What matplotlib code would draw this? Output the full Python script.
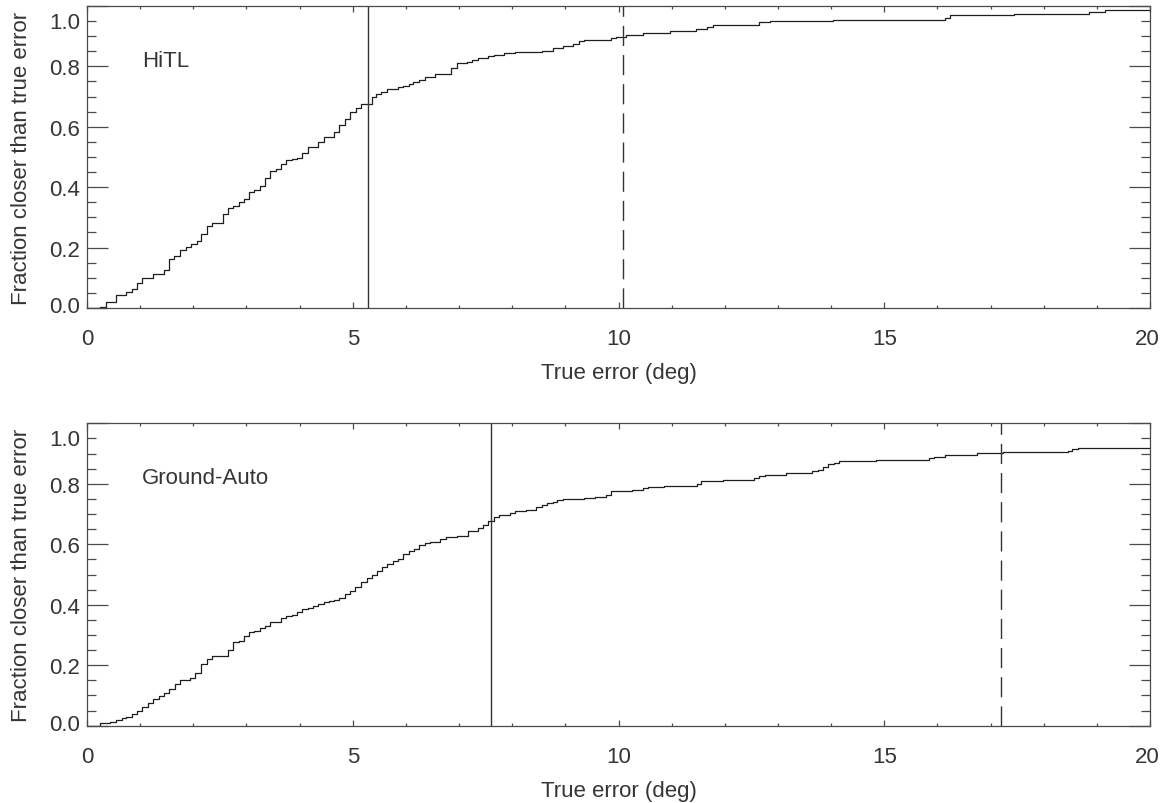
import matplotlib
matplotlib.use("Agg")
import matplotlib.pyplot as plt
from matplotlib.ticker import FixedLocator, MultipleLocator
from matplotlib.transforms import ScaledTranslation

plt.rcParams['font.family'] = ['Liberation Sans', 'DejaVu Sans']

# Cumulative fraction of cases closer than a given true error (deg)
hitl_err = [0.0, 0.24, 0.35, 0.55, 0.74, 0.85, 0.94, 1.04, 1.25, 1.44, 1.54, 1.64,
            1.74, 1.86, 1.96, 2.06, 2.15, 2.25, 2.35, 2.55, 2.65, 2.75, 2.85, 2.95,
            3.05, 3.15, 3.25, 3.35, 3.45, 3.55, 3.65, 3.75, 3.85, 3.95, 4.05, 4.15,
            4.35, 4.45, 4.65, 4.75, 4.85, 4.95, 5.06, 5.16, 5.36, 5.44, 5.54, 5.65,
            5.85, 5.95, 6.05, 6.14, 6.24, 6.35, 6.55, 6.85, 6.96, 7.14, 7.25, 7.35,
            7.55, 7.65, 7.85, 8.05, 8.56, 8.76, 8.96, 9.15, 9.26, 9.35, 9.85, 9.95,
            10.15, 10.46, 10.96, 11.45, 11.66, 11.77, 12.65, 12.85, 14.03, 16.14,
            16.24, 17.45, 18.86, 19.15]
hitl_frac = [0.0, 0.003, 0.019, 0.043, 0.054, 0.063, 0.083, 0.098, 0.114, 0.127,
             0.162, 0.173, 0.191, 0.202, 0.213, 0.222, 0.246, 0.273, 0.281, 0.310,
             0.332, 0.337, 0.350, 0.361, 0.385, 0.390, 0.405, 0.429, 0.455, 0.460,
             0.478, 0.490, 0.493, 0.498, 0.513, 0.532, 0.549, 0.567, 0.582, 0.607,
             0.626, 0.650, 0.661, 0.677, 0.700, 0.710, 0.715, 0.725, 0.731, 0.736,
             0.743, 0.749, 0.756, 0.764, 0.774, 0.794, 0.810, 0.816, 0.822, 0.828,
             0.834, 0.839, 0.844, 0.849, 0.852, 0.862, 0.868, 0.875, 0.883, 0.887,
             0.893, 0.898, 0.903, 0.912, 0.916, 0.925, 0.932, 0.938, 0.946, 0.950,
             0.955, 0.960, 0.971, 0.975, 0.980, 0.986]

ground_err = [0.0, 0.24, 0.44, 0.55, 0.65, 0.74, 0.85, 0.94, 1.03, 1.15, 1.25, 1.35,
              1.45, 1.55, 1.65, 1.74, 1.94, 2.04, 2.15, 2.25, 2.35, 2.65, 2.75, 2.85,
              2.95, 3.05, 3.15, 3.25, 3.35, 3.45, 3.65, 3.75, 3.85, 3.95, 4.05, 4.15,
              4.25, 4.35, 4.45, 4.55, 4.65, 4.75, 4.85, 4.95, 5.05, 5.15, 5.26, 5.36,
              5.46, 5.55, 5.65, 5.75, 5.85, 5.95, 6.06, 6.16, 6.25, 6.36, 6.45, 6.65,
              6.76, 6.96, 7.16, 7.35, 7.45, 7.55, 7.65, 7.75, 7.96, 8.06, 8.26, 8.45,
              8.56, 8.65, 8.76, 8.85, 8.95, 9.35, 9.56, 9.76, 9.86, 10.26, 10.46, 10.56,
              10.86, 11.47, 11.55, 11.96, 12.55, 12.65, 12.75, 13.15, 13.65, 13.75,
              13.85, 13.95, 14.05, 14.15, 14.85, 15.85, 15.94, 16.14, 16.75, 17.24,
              18.45, 18.54, 18.65]
ground_frac = [0.0, 0.009, 0.014, 0.020, 0.024, 0.030, 0.039, 0.050, 0.063, 0.075,
               0.090, 0.097, 0.107, 0.121, 0.137, 0.151, 0.159, 0.175, 0.205, 0.220,
               0.231, 0.251, 0.276, 0.281, 0.298, 0.309, 0.314, 0.322, 0.331, 0.342,
               0.356, 0.362, 0.367, 0.377, 0.386, 0.390, 0.395, 0.401, 0.408, 0.412,
               0.417, 0.423, 0.435, 0.444, 0.458, 0.474, 0.490, 0.500, 0.512, 0.525,
               0.535, 0.545, 0.553, 0.568, 0.579, 0.584, 0.597, 0.604, 0.608, 0.617,
               0.623, 0.628, 0.643, 0.655, 0.663, 0.678, 0.689, 0.697, 0.703, 0.709,
               0.715, 0.725, 0.730, 0.735, 0.741, 0.747, 0.749, 0.754, 0.758, 0.764,
               0.775, 0.779, 0.785, 0.789, 0.794, 0.799, 0.810, 0.813, 0.819, 0.825,
               0.830, 0.836, 0.841, 0.846, 0.855, 0.864, 0.870, 0.875, 0.880, 0.884,
               0.890, 0.895, 0.902, 0.906, 0.910, 0.915, 0.920]

# Error radius enclosing 68% (solid) and 90% (dashed) of the cases
hitl_marks = [5.29, 10.09]
ground_marks = [7.60, 17.20]

panel_names = ["HiTL", "Ground-Auto"]
x_ticks = [0, 5, 10, 15, 20]
y_ticks = [0.0, 0.2, 0.4, 0.6, 0.8, 1.0]
y_ticklabels = ["0.0", "0.2", "0.4", "0.6", "0.8", "1.0"]
X_MIN, X_MAX = 0, 20

INK = "#1e1e1e"
TXT = "#353535"
AX = "#4a4a4a"

fig = plt.figure(figsize=(11.67, 8.04), dpi=100)
ax_top = fig.add_axes([0.0746, 0.6157, 0.9108, 0.3756])
ax_bot = fig.add_axes([0.0746, 0.0961, 0.9108, 0.3761])

panels = [
    (ax_top, hitl_err, hitl_frac, hitl_marks, panel_names[0]),
    (ax_bot, ground_err, ground_frac, ground_marks, panel_names[1]),
]

for ax, err, frac, marks, name in panels:
    ax.step(list(err) + [X_MAX], list(frac) + [frac[-1]], where="post",
            color=INK, lw=0.9)
    ax.axvline(marks[0], color="#333333", lw=1.0)
    ax.axvline(marks[1], color="#333333", lw=1.0, linestyle=(0, (14.5, 6.5)))

    ax.set_xlim(X_MIN, X_MAX)
    ax.set_ylim(0, 1)
    ax.xaxis.set_major_locator(FixedLocator(x_ticks))
    ax.xaxis.set_minor_locator(MultipleLocator(1))
    ax.yaxis.set_major_locator(FixedLocator(y_ticks))
    ax.yaxis.set_minor_locator(MultipleLocator(0.05))
    ax.set_xticklabels([str(v) for v in x_ticks])
    ax.set_yticklabels(y_ticklabels)

    for sp in ax.spines.values():
        sp.set_color(AX)
        sp.set_linewidth(0.9)

    ax.tick_params(axis="both", which="both", direction="in", top=True,
                   right=True, color=AX, width=0.9, labelcolor=TXT,
                   labelsize=16)
    ax.tick_params(axis="y", which="major", length=15, pad=5)
    ax.tick_params(axis="y", which="minor", length=6.7)
    ax.tick_params(axis="x", which="major", length=4.6, pad=14.5)
    ax.tick_params(axis="x", which="minor", length=2.5)

    ax.set_xlabel("True error (deg)", fontsize=16, color=TXT, va="center")
    ax.xaxis.set_label_coords(0.5, -0.213)
    ax.set_ylabel("Fraction closer than true error", fontsize=16, color=TXT,
                  va="center")
    ax.yaxis.set_label_coords(-0.062, 0.5)

    ax.text(0.052, 0.82, name, transform=ax.transAxes, fontsize=16,
            color=TXT, ha="left", va="center")

    # keep the end labels inside the frame
    labels = ax.get_yticklabels()
    labels[-1].set_transform(labels[-1].get_transform() +
                             ScaledTranslation(0, -0.14, fig.dpi_scale_trans))
    labels[0].set_transform(labels[0].get_transform() +
                            ScaledTranslation(0, 0.04, fig.dpi_scale_trans))
    xlabels = ax.get_xticklabels()
    xlabels[-1].set_transform(xlabels[-1].get_transform() +
                              ScaledTranslation(-0.03, 0, fig.dpi_scale_trans))

fig.savefig("out.png", dpi=100, facecolor="white")
